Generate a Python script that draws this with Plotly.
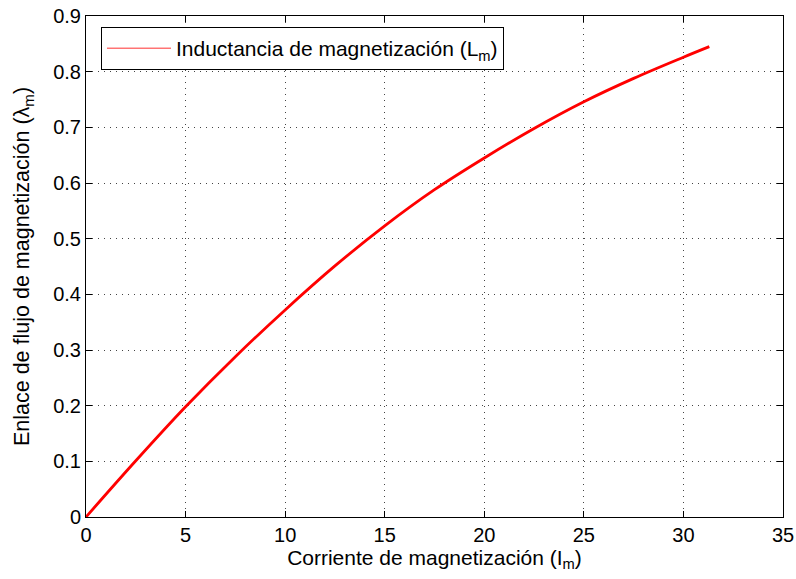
import plotly.graph_objects as go

corriente = [0, 2.5, 5, 7.5, 10, 12.5, 15, 17.5, 20, 22.5, 25, 27.5, 30, 31.3]
flujo = [0, 0.101, 0.198, 0.288, 0.372, 0.451, 0.523, 0.588, 0.645, 0.698, 0.746, 0.788, 0.826, 0.845]
x_ticks = [0, 5, 10, 15, 20, 25, 30, 35]
y_ticks = [0, 0.1, 0.2, 0.3, 0.4, 0.5, 0.6, 0.7, 0.8, 0.9]
y_tick_text = ["0", "0.1", "0.2", "0.3", "0.4", "0.5", "0.6", "0.7", "0.8", "0.9"]

FONT = "Liberation Sans, Arial, sans-serif"

fig = go.Figure()
fig.add_trace(go.Scatter(x=corriente, y=flujo, mode="lines", line=dict(color="#ff0000", width=2.8),
                         line_shape="spline", showlegend=False, hoverinfo="skip"))
fig.add_trace(go.Scatter(x=[None], y=[None], mode="lines", line=dict(color="#ff3030", width=1),
                         name="Inductancia de magnetización (L<sub>m</sub>)"))

axis_common = dict(showline=True, linecolor="black", linewidth=1, mirror="ticks",
                   ticks="inside", ticklen=6, tickcolor="black",
                   showgrid=True, gridcolor="#444444", gridwidth=1, griddash="1px,5px",
                   zeroline=False, tickfont=dict(family=FONT, size=20, color="black"))

fig.update_xaxes(range=[0, 35], tickvals=x_ticks, ticktext=[str(v) for v in x_ticks],
                 title=dict(text="Corriente de magnetización (I<sub>m</sub>)", font=dict(family=FONT, size=21, color="black"), standoff=2),
                 **axis_common)
fig.update_yaxes(range=[0, 0.9], tickvals=y_ticks, ticktext=y_tick_text,
                 title=dict(text="Enlace de flujo de magnetización (λ<sub>m</sub>)", font=dict(family=FONT, size=21.5, color="black"), standoff=17),
                 **axis_common)

fig.update_layout(
    width=796, height=579,
    margin=dict(l=86, r=13, t=16, b=62, autoexpand=False),
    plot_bgcolor="white", paper_bgcolor="white",
    font=dict(family=FONT, color="black"),
    legend=dict(x=0.0215, y=0.978, xanchor="left", yanchor="top",
                bordercolor="black", borderwidth=1, bgcolor="white",
                font=dict(family=FONT, size=21, color="black"), itemwidth=64),
)

fig.write_html("out.html")
